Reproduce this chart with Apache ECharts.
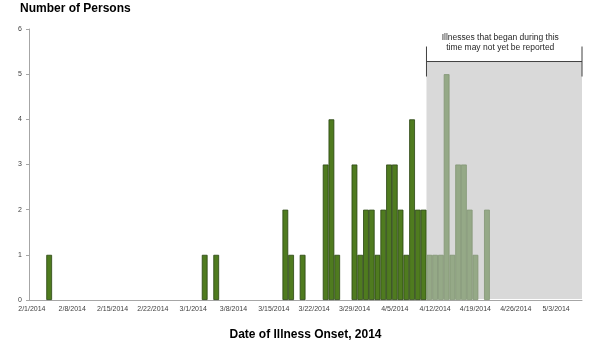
<!DOCTYPE html>
<html><head><meta charset="utf-8">
<script src="https://cdn.jsdelivr.net/npm/echarts@6/dist/echarts.min.js"></script>
<style>html,body{margin:0;padding:0;background:#fff}#c{width:600px;height:346px}</style>
</head><body><div id="c"></div>
<script>
// ---- data ----
const axisStartYear = 2014, axisStartMonth = 2, axisStartDay = 1; // 2/1/2014
const dayCount = 96; // 2/1/2014 .. 5/7/2014
const reportedDates = ['2/4/2014','3/3/2014','3/5/2014','3/17/2014','3/18/2014','3/20/2014','3/24/2014','3/25/2014','3/26/2014','3/29/2014','3/30/2014','3/31/2014','4/1/2014','4/2/2014','4/3/2014','4/4/2014','4/5/2014','4/6/2014','4/7/2014','4/8/2014','4/9/2014','4/10/2014'];
const reportedCounts = [1,1,1,2,1,1,3,4,1,3,1,2,2,1,2,3,3,2,1,4,2,2];
const pendingDates = ['4/11/2014','4/12/2014','4/13/2014','4/14/2014','4/15/2014','4/16/2014','4/17/2014','4/18/2014','4/19/2014','4/21/2014'];
const pendingCounts = [1,1,1,5,1,3,3,2,1,2];
const pendingStart = '4/11/2014';
const yTicks = [0,1,2,3,4,5,6];
const noteLines = ['Illnesses that began during this','time may not yet be reported'];
const titleText = 'Number of Persons';
const xAxisTitle = 'Date of Illness Onset, 2014';
const bracketLevel = 5.28;

// ---- build ----
function fmt(d){return (d.getMonth()+1)+'/'+d.getDate()+'/'+d.getFullYear();}
const categories = [];
for (let i = 0; i < dayCount; i++) {
  categories.push(fmt(new Date(axisStartYear, axisStartMonth-1, axisStartDay+i)));
}
const reportedStyle = {color:'#4f7b1f', borderColor:'#2a4511', borderWidth:0.8};
const pendingStyle = {color:'#95a987', borderColor:'#829673', borderWidth:0.8};
const valueMap = {};
reportedDates.forEach((d,i)=>{ valueMap[d] = {value:reportedCounts[i], itemStyle:reportedStyle}; });
pendingDates.forEach((d,i)=>{ valueMap[d] = {value:pendingCounts[i], itemStyle:pendingStyle}; });
const barData = categories.map(c => valueMap[c] || '-');

const font = 'Liberation Sans, Arial, sans-serif';
const chart = echarts.init(document.getElementById('c'), null, {renderer:'canvas'});
chart.setOption({
  animation:false,
  backgroundColor:'#ffffff',
  title:{text:titleText, left:20, top:3, padding:0,
    textStyle:{fontSize:12, fontWeight:'bold', color:'#000', fontFamily:font}},
  grid:{left:29, right:18, top:29, bottom:41},
  xAxis:{type:'category', data:categories, boundaryGap:true,
    name:xAxisTitle, nameLocation:'middle', nameGap:29,
    nameTextStyle:{fontSize:12, fontWeight:'bold', color:'#000', fontFamily:font},
    axisLine:{lineStyle:{color:'#a6a6a6', width:1}},
    axisTick:{interval:6, length:3, lineStyle:{color:'#a6a6a6'}},
    axisLabel:{interval:6, fontSize:7, color:'#404040', margin:6, fontFamily:font}},
  yAxis:{type:'value', min:yTicks[0], max:yTicks[yTicks.length-1], interval:1,
    splitLine:{show:false},
    axisLine:{show:true, lineStyle:{color:'#a6a6a6', width:1}},
    axisTick:{show:true, length:3, lineStyle:{color:'#a6a6a6'}},
    axisLabel:{fontSize:7, color:'#404040', margin:7, fontFamily:font}},
  series:[
    {type:'bar', name:'cases', data:barData, barCategoryGap:'0%', z:3,
      itemStyle:reportedStyle}
  ]
});
const c0 = chart.convertToPixel({xAxisIndex:0}, categories[0]);
const c1 = chart.convertToPixel({xAxisIndex:0}, categories[1]);
const band = c1 - c0;
const x0 = chart.convertToPixel({xAxisIndex:0}, pendingStart) - band/2;
const x1 = chart.convertToPixel({xAxisIndex:0}, categories[categories.length-1]) + band/2;
const yTop = chart.convertToPixel({yAxisIndex:0}, bracketLevel);
const yBot = chart.convertToPixel({yAxisIndex:0}, 0);
const lineStyle = {stroke:'#404040', lineWidth:1};
chart.setOption({graphic:[
  {type:'rect', z:1, shape:{x:x0, y:yTop, width:x1-x0, height:yBot-yTop-1}, style:{fill:'#d9d9d9'}},
  {type:'line', z:10, shape:{x1:x0, y1:yTop, x2:x1, y2:yTop}, style:lineStyle},
  {type:'line', z:10, shape:{x1:x0, y1:yTop-15, x2:x0, y2:yTop+15}, style:lineStyle},
  {type:'line', z:10, shape:{x1:x1, y1:yTop-15, x2:x1, y2:yTop+15}, style:lineStyle},
  {type:'text', z:10, x:(x0+x1)/2-4, y:yTop-19, style:{text:noteLines.join('\n'), align:'center', verticalAlign:'middle',
    fontSize:8.5, lineHeight:10, fill:'#262626', fontFamily:font}}
]});
</script></body></html>
